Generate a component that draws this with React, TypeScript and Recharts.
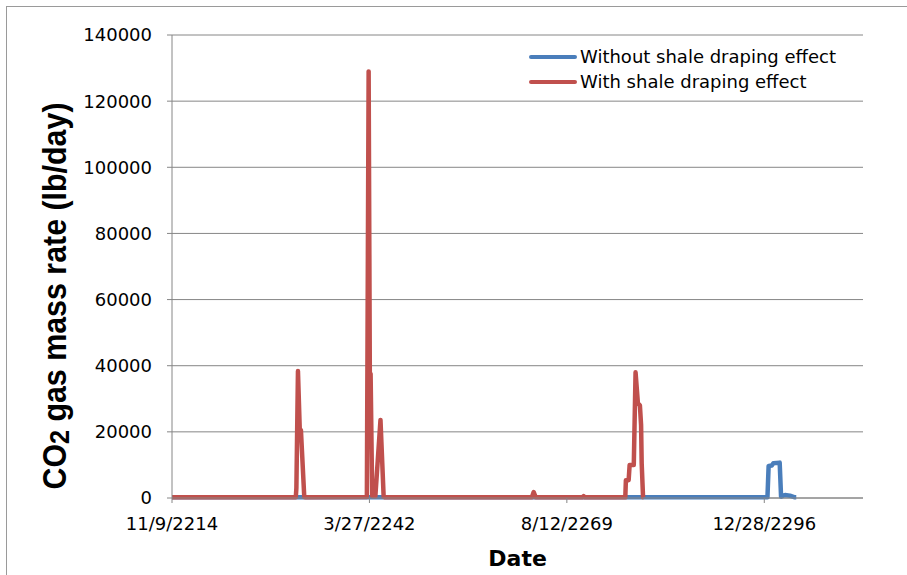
import React from 'react';
import { LineChart, Line, XAxis, YAxis, CartesianGrid, Legend } from 'recharts';

// x values are spreadsheet day serials (day 0 = 12/30/1899)
const seriesNames = ['Without shale draping effect', 'With shale draping effect'];
const seriesColors = ['#4a7ebb', '#c0504d'];

const daysWithout = [115000, 145160, 145220, 145380, 145460, 145780, 145850, 145950, 146050, 146300, 146550, 146620];
const rateWithout = [200, 200, 9700, 9800, 10500, 10700, 400, 700, 900, 700, 200, 200];

const daysWith = [
  115000, 121270, 121300, 121380, 121470, 121530, 121700, 121780,
  124870, 124960, 125020, 125060, 125140, 125300, 125560, 125720, 125780,
  133230, 133320, 133420, 135780, 135850, 135920,
  137960, 137990, 138130, 138180, 138390, 138480, 138600, 138700, 138760, 138790, 138860, 138880,
];
const rateWith = [
  200, 200, 3000, 38400, 21000, 20500, 300, 200,
  300, 129000, 37800, 37500, 600, 500, 23600, 400, 200,
  200, 1800, 200, 200, 600, 200,
  200, 5400, 5400, 10000, 10000, 38000, 28600, 28000, 22000, 10500, 200, 200,
];

const dateTicks = [115000, 125000, 135000, 145000];
const rateTicks = [0, 20000, 40000, 60000, 80000, 100000, 120000, 140000];

const toSeries = (days: number[], rates: number[]) => days.map((day, i) => ({ day, rate: rates[i] }));
const withoutData = toSeries(daysWithout, rateWithout);
const withData = toSeries(daysWith, rateWith);

const formatDate = (serial: number) => {
  const d = new Date(Date.UTC(1899, 11, 30) + serial * 86400000);
  return `${d.getUTCMonth() + 1}/${d.getUTCDate()}/${d.getUTCFullYear()}`;
};

const axisGrey = '#868686';
const tickStyle = { fontFamily: 'DejaVu Sans', fontSize: 18, fill: '#000' };

const renderLegend = (props: any) => {
  const items = [...(props.payload || [])].sort(
    (a: any, b: any) => seriesNames.indexOf(a.value) - seriesNames.indexOf(b.value),
  );
  return (
    <div style={{ fontFamily: 'DejaVu Sans', fontSize: 18, color: '#000' }}>
      {items.map((p: any) => (
        <div key={p.value} style={{ display: 'flex', alignItems: 'center', height: 25 }}>
          <svg width={48} height={10}>
            <line x1={2} y1={5} x2={46} y2={5} stroke={p.color} strokeWidth={4} strokeLinecap="round" />
          </svg>
          <span style={{ marginLeft: 3, whiteSpace: 'nowrap' }}>{p.value}</span>
        </div>
      ))}
    </div>
  );
};

export default function App() {
  return (
    <div style={{ position: 'fixed', left: 0, top: 0, width: 907, height: 575, overflow: 'hidden', background: '#fff' }}>
      <div style={{ position: 'absolute', left: 6, top: 6, width: 1000, height: 1000, border: '1px solid #9a9a9a' }} />
      <div style={{ position: 'absolute', left: 0, top: 0 }}>
        <LineChart width={907} height={575} margin={{ top: 35, right: 44, bottom: 47, left: 112 }}>
          <CartesianGrid vertical={false} stroke={axisGrey} />
          <XAxis
            type="number"
            dataKey="day"
            domain={[115000, 150000]}
            ticks={dateTicks}
            interval={0}
            tickFormatter={formatDate}
            allowDataOverflow
            height={30}
            tickSize={5}
            tickMargin={14}
            tick={tickStyle}
            stroke={axisGrey}
          />
          <YAxis
            type="number"
            domain={[0, 140000]}
            ticks={rateTicks}
            interval={0}
            width={60}
            tickSize={5}
            tickMargin={15}
            tick={tickStyle}
            stroke={axisGrey}
          />
          <Legend
            layout="horizontal"
            verticalAlign="middle"
            align="center"
            content={renderLegend}
            wrapperStyle={{ left: 529, top: 44, width: 360 }}
          />
          <Line
            data={withoutData}
            dataKey="rate"
            name={seriesNames[0]}
            stroke={seriesColors[0]}
            strokeWidth={4.5}
            strokeLinejoin="round"
            dot={false}
            activeDot={false}
            isAnimationActive={false}
          />
          <Line
            data={withData}
            dataKey="rate"
            name={seriesNames[1]}
            stroke={seriesColors[1]}
            strokeWidth={4.5}
            strokeLinejoin="round"
            dot={false}
            activeDot={false}
            isAnimationActive={false}
          />
        </LineChart>
      </div>
      <svg width={907} height={575} style={{ position: 'absolute', left: 0, top: 0, pointerEvents: 'none' }}>
        <text
          transform="rotate(-90, 66, 296)"
          x={66}
          y={296}
          textAnchor="middle"
          fontFamily="Liberation Sans"
          fontWeight="bold"
          fontSize={34}
          textLength={387}
          lengthAdjust="spacingAndGlyphs"
          fill="#000"
        >
          CO<tspan fontSize={28} dy={3}>2</tspan>
          <tspan dy={-3}> gas mass rate (lb/day)</tspan>
        </text>
        <text x={517.6} y={566} textAnchor="middle" fontFamily="DejaVu Sans" fontWeight="bold" fontSize={22} fill="#000">
          Date
        </text>
      </svg>
    </div>
  );
}
